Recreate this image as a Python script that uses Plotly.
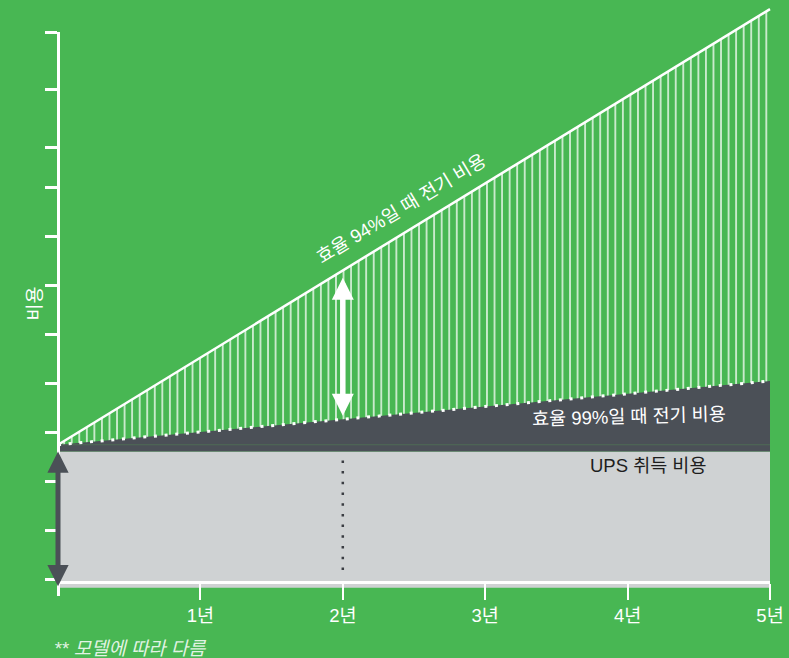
import plotly.graph_objects as go

# ---- data (arbitrary cost units, x in years) ----
years = [0, 5]
acquisition = [26.0, 26.0]          # UPS 취득 비용
total_99 = [27.4, 40.4]             # 효율 99% : 취득 + 전기 비용
total_94 = [27.4, 116.3]            # 효율 94% : 취득 + 전기 비용
floor_val = -1.8
x_tick_vals = [1, 2, 3, 4, 5]
x_tick_text = ["1년", "2년", "3년", "4년", "5년"]
y_tick_vals = [0, 10, 20, 30, 40, 50, 60, 70, 80, 88, 100, 111.6]
highlight_year = 2

# ---- layout geometry ----
W, H = 789, 658
X0, SX = 58, 142.4      # px of x=0, px per year
Y0, SY = 579, 4.9       # px of y=0, px per unit
GREEN = "#48b753"
GRAY = "#cfd2d3"
DARK = "#4b5057"
FONT = "Liberation Sans, Noto Sans CJK KR, sans-serif"


def at(series, x):
    return series[0] + (series[1] - series[0]) * (x - years[0]) / (years[1] - years[0])


x_range = [-X0 / SX, (W - X0) / SX]
y_range = [(Y0 - H) / SY, Y0 / SY]

fig = go.Figure()

# gray acquisition area
fig.add_trace(go.Scatter(
    x=[years[0], years[1], years[1], years[0]],
    y=[floor_val, floor_val, acquisition[1], acquisition[0]],
    fill="toself", fillcolor=GRAY, line=dict(width=0), mode="lines",
    hoverinfo="skip", showlegend=False))

# dark electricity (99%) area
fig.add_trace(go.Scatter(
    x=[years[0], years[1], years[1], years[0]],
    y=[acquisition[0], acquisition[1], total_99[1], total_99[0]],
    fill="toself", fillcolor=DARK, line=dict(width=0), mode="lines",
    hoverinfo="skip", showlegend=False))

# faint line inside dark band
fig.add_trace(go.Scatter(
    x=years, y=[total_99[0], total_99[0]], mode="lines",
    line=dict(color="#4f6a55", width=1), hoverinfo="skip", showlegend=False))

# 99% dotted line
fig.add_trace(go.Scatter(
    x=years, y=total_99, mode="lines",
    line=dict(color="white", width=3, dash="3px,7.7px"),
    hoverinfo="skip", showlegend=False))

# 94% line with hatch to 99% line
fig.add_trace(go.Scatter(
    x=years, y=total_94, mode="lines",
    line=dict(color="white", width=2.5),
    fill="tonexty", fillcolor="rgba(0,0,0,0)",
    fillpattern=dict(shape="|", size=7.55, solidity=0.22,
                     fgcolor="rgba(255,255,255,0.8)", bgcolor="rgba(0,0,0,0)"),
    hoverinfo="skip", showlegend=False))

# dotted vertical line at highlighted year
fig.add_trace(go.Scatter(
    x=[highlight_year, highlight_year], y=[acquisition[0] - 1.8, 0.3], mode="lines",
    line=dict(color="#3a3d42", width=2.5, dash="2.5px,8.2px"),
    hoverinfo="skip", showlegend=False))

# dummy trace for visible axis pair
fig.add_trace(go.Scatter(x=[None], y=[None], xaxis="x2", yaxis="y2",
                         hoverinfo="skip", showlegend=False))

ann = []
# white double arrow
ann.append(dict(
    x=highlight_year, y=at(total_94, highlight_year) - 1.5,
    ax=highlight_year, ay=at(total_99, highlight_year) + 0.4,
    xref="x", yref="y", axref="x", ayref="y", text="", showarrow=True,
    arrowside="end+start", arrowhead=2, startarrowhead=2,
    arrowsize=0.8, startarrowsize=0.8, arrowwidth=5.5, arrowcolor="white",
    standoff=0, startstandoff=0))
# dark double arrow
ann.append(dict(
    x=years[0], y=acquisition[0],
    ax=years[0], ay=floor_val,
    xref="x", yref="y", axref="x", ayref="y", text="", showarrow=True,
    arrowside="end+start", arrowhead=2, startarrowhead=2,
    arrowsize=0.85, startarrowsize=0.85, arrowwidth=5, arrowcolor=DARK,
    standoff=0, startstandoff=0))

ann.append(dict(x=(401 - X0) / SX, y=(Y0 - 208) / SY, xref="x", yref="y",
                text="효율 94%일 때 전기 비용", showarrow=False, textangle=-31,
                font=dict(family=FONT, size=18.5, color="white")))
ann.append(dict(x=(629 - X0) / SX, y=(Y0 - 416) / SY, xref="x", yref="y",
                text="효율 99%일 때 전기 비용", showarrow=False, textangle=-1.5,
                font=dict(family=FONT, size=18.5, color="white")))
ann.append(dict(x=(648 - X0) / SX, y=(Y0 - 465) / SY, xref="x", yref="y",
                text="UPS 취득 비용", showarrow=False,
                font=dict(family=FONT, size=18.5, color="#1e1e1e")))
ann.append(dict(x=21 / W, y=1 - 304 / H, xref="paper", yref="paper",
                text="비용", showarrow=False, textangle=-90,
                font=dict(family=FONT, size=18.5, color="white")))
ann.append(dict(x=52 / W, y=1 - 648 / H, xref="paper", yref="paper",
                xanchor="left", yanchor="middle",
                text="<i>** 모델에 따라 다름</i>", showarrow=False,
                font=dict(family=FONT, size=18.8, color="rgba(255,255,255,0.85)")))

fig.update_layout(
    template="none",
    width=W, height=H, autosize=False,
    margin=dict(l=0, r=0, t=0, b=0, pad=0, autoexpand=False),
    paper_bgcolor=GREEN, plot_bgcolor="rgba(0,0,0,0)",
    showlegend=False,
    xaxis=dict(range=x_range, visible=False, fixedrange=True, automargin=False),
    yaxis=dict(range=y_range, visible=False, fixedrange=True, automargin=False),
    xaxis2=dict(
        domain=[X0 / W, (X0 + 5 * SX) / W], range=[0, 5], anchor="free",
        position=(H - 581.5) / H, showline=True, linecolor="white", linewidth=3,
        ticks="outside", ticklen=16, tickwidth=2, tickcolor="white",
        tickvals=x_tick_vals, ticktext=x_tick_text, showgrid=False, zeroline=False,
        tickfont=dict(family=FONT, size=18.5, color="white"), fixedrange=True,
        automargin=False),
    yaxis2=dict(
        domain=[(H - 596) / H, (H - 32) / H],
        range=[(Y0 - 596) / SY, (Y0 - 32) / SY], anchor="free",
        position=X0 / W, showline=True, linecolor="white", linewidth=2.5,
        ticks="outside", ticklen=12, tickwidth=2.5, tickcolor="white",
        tickvals=y_tick_vals, showticklabels=False, showgrid=False, zeroline=False,
        fixedrange=True, automargin=False),
    annotations=ann,
)

fig.write_html(
    "out.html",
    config={"displayModeBar": False, "responsive": False},
    post_script="document.body.style.margin='0';document.body.style.overflow='hidden';",
)
